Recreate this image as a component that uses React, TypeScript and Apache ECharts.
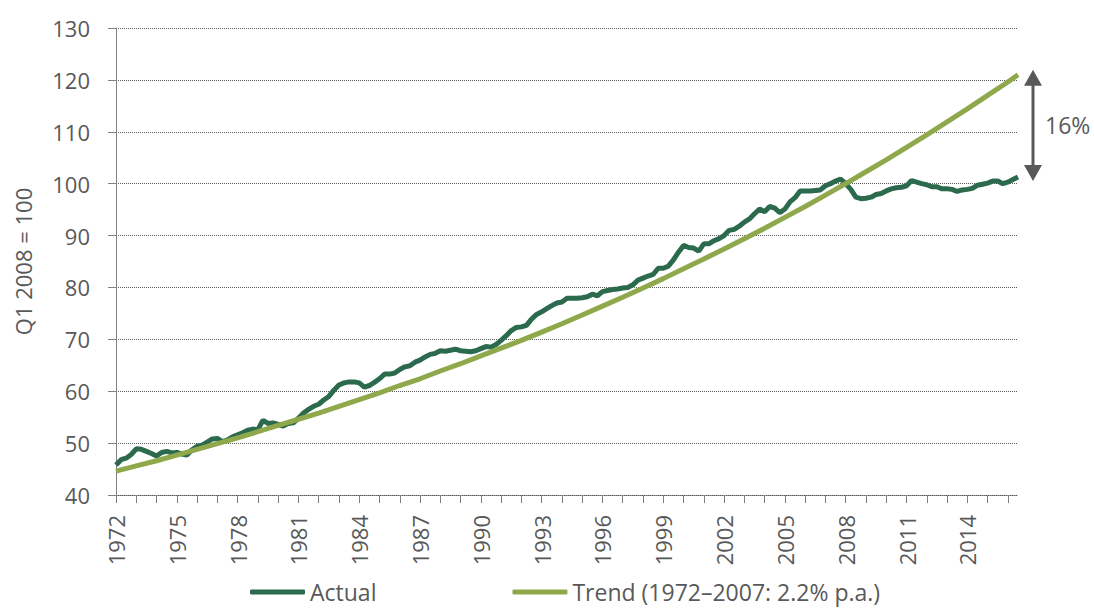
import React, { useEffect, useRef } from "react";
import * as echarts from "echarts";

// Quarterly series, 1972 Q1 – 2016 Q3 (Q1 2008 = 100)
const startYear = 1972;
const actual = [
  45.8, 46.8, 47.1, 47.8, // 1972
  48.9, 48.8, 48.4, 48.0, // 1973
  47.5, 48.2, 48.4, 48.1, // 1974
  48.2, 47.9, 47.7, 48.7, // 1975
  49.4, 49.6, 50.2, 50.8, // 1976
  50.9, 50.3, 50.6, 51.2, // 1977
  51.6, 52.0, 52.5, 52.7, // 1978
  52.6, 54.4, 53.8, 53.9, // 1979
  53.6, 53.3, 53.8, 53.9, // 1980
  54.8, 55.8, 56.5, 57.1, // 1981
  57.5, 58.3, 59.0, 60.2, // 1982
  61.2, 61.6, 61.8, 61.8, // 1983
  61.6, 60.8, 61.1, 61.7, // 1984
  62.4, 63.3, 63.3, 63.5, // 1985
  64.2, 64.7, 64.9, 65.6, // 1986
  66.0, 66.6, 67.1, 67.3, // 1987
  67.8, 67.7, 67.9, 68.1, // 1988
  67.8, 67.7, 67.6, 67.8, // 1989
  68.2, 68.6, 68.5, 69.0, // 1990
  69.8, 70.7, 71.7, 72.3, // 1991
  72.4, 72.7, 73.9, 74.8, // 1992
  75.3, 75.9, 76.5, 77.0, // 1993
  77.2, 77.9, 77.9, 77.9, // 1994
  78.0, 78.2, 78.7, 78.4, // 1995
  79.2, 79.4, 79.6, 79.7, // 1996
  79.9, 80.0, 80.5, 81.4, // 1997
  81.8, 82.2, 82.5, 83.7, // 1998
  83.7, 84.1, 85.3, 86.8, // 1999
  88.1, 87.7, 87.6, 87.0, // 2000
  88.4, 88.4, 89.0, 89.4, // 2001
  90.0, 91.0, 91.2, 91.8, // 2002
  92.6, 93.2, 94.2, 95.1, // 2003
  94.6, 95.6, 95.3, 94.4, // 2004
  95.1, 96.5, 97.3, 98.6, // 2005
  98.6, 98.6, 98.7, 98.8, // 2006
  99.6, 100.0, 100.5, 100.9, // 2007
  100.0, 98.9, 97.4, 97.1, // 2008
  97.2, 97.4, 97.9, 98.1, // 2009
  98.6, 99.0, 99.2, 99.3, // 2010
  99.6, 100.6, 100.3, 100.0, // 2011
  99.8, 99.4, 99.4, 99.0, // 2012
  99.0, 98.9, 98.5, 98.8, // 2013
  98.9, 99.1, 99.7, 99.9, // 2014
  100.1, 100.5, 100.5, 100.0, // 2015
  100.3, 100.8, 101.3, // 2016
];

// Trend read at Q1 of each year (plus the last quarter shown)
const trendQuarterIndex = [
  0, 4, 8, 12, 16, 20, 24, 28, 32, 36, 40, 44, 48, 52, 56, 60, 64, 68, 72, 76,
  80, 84, 88, 92, 96, 100, 104, 108, 112, 116, 120, 124, 128, 132, 136, 140,
  144, 148, 152, 156, 160, 164, 168, 172, 176, 178,
];
const trendValues = [
  44.6, 45.6, 46.6, 47.7, 48.8, 49.9, 51.0, 52.2, 53.4, 54.6, 55.8, 57.1, 58.4,
  59.7, 61.1, 62.4, 63.9, 65.3, 66.8, 68.3, 69.8, 71.4, 73.0, 74.7, 76.4, 78.1,
  79.9, 81.7, 83.6, 85.5, 87.4, 89.4, 91.4, 93.5, 95.6, 97.8, 100.0, 102.3,
  104.6, 107.0, 109.4, 111.9, 114.4, 117.0, 119.6, 121.0,
];

const labelYears = [1972, 1975, 1978, 1981, 1984, 1987, 1990, 1993, 1996, 1999, 2002, 2005, 2008, 2011, 2014];
const seriesNames = ["Actual", "Trend (1972\u20132007: 2.2% p.a.)"];
const yAxisTitle = "Q1 2008 = 100";
const gapLabel = "16%";

const categories = actual.map((_, i) => `${startYear + Math.floor(i / 4)} Q${(i % 4) + 1}`);

const FONT = "'Open Sans', 'Liberation Sans', sans-serif";
const GREY = "#595959";
const AXIS = "#808080";
const DARK = "#2c6a4e";
const OLIVE = "#8fa84b";

export default function App() {
  const ref = useRef<HTMLDivElement>(null);

  useEffect(() => {
    if (!ref.current) return;
    const chart = echarts.init(ref.current, undefined, { renderer: "svg" });
    const option: any = {
      animation: false,
      backgroundColor: "#ffffff",
      grid: { left: 116, right: 76, top: 28, bottom: 113 },
      legend: {
        left: 250,
        top: 580,
        padding: 0,
        itemWidth: 55,
        itemHeight: 5,
        itemGap: 136,
        icon: "roundRect",
        textStyle: { fontFamily: FONT, fontSize: 23, lineHeight: 24, color: GREY },
        data: seriesNames,
      },
      xAxis: {
        type: "category",
        data: categories,
        boundaryGap: false,
        axisLine: { show: true, lineStyle: { color: GREY, type: "dotted", width: 1 } },
        axisTick: {
          show: true,
          length: 8,
          interval: (i: number) => i % 4 === 0,
          lineStyle: { color: AXIS },
        },
        axisLabel: {
          interval: (i: number) => i % 4 === 0 && labelYears.includes(startYear + i / 4),
          rotate: 90,
          margin: 20,
          fontFamily: FONT,
          fontSize: 22,
          color: GREY,
          formatter: (v: string) => v.slice(0, 4),
        },
        splitLine: { show: false },
      },
      yAxis: {
        type: "value",
        min: 40,
        max: 130,
        interval: 10,
        name: yAxisTitle,
        nameLocation: "middle",
        nameGap: 82,
        nameTextStyle: { fontFamily: FONT, fontSize: 22, color: GREY },
        axisLine: { show: true, lineStyle: { color: AXIS } },
        axisTick: { show: true, length: 8, lineStyle: { color: AXIS } },
        axisLabel: { margin: 26, fontFamily: FONT, fontSize: 22, color: GREY },
        splitLine: { show: true, lineStyle: { color: GREY, type: "dotted", width: 1 } },
      },
      series: [
        {
          name: seriesNames[0],
          type: "line",
          data: actual,
          showSymbol: false,
          symbol: "none",
          color: DARK,
          lineStyle: { color: DARK, width: 5 },
          z: 2,
        },
        {
          name: seriesNames[1],
          type: "line",
          data: trendQuarterIndex.map((q, i) => [q, trendValues[i]]),
          showSymbol: false,
          symbol: "none",
          color: OLIVE,
          lineStyle: { color: OLIVE, width: 5 },
          z: 3,
        },
      ],
    };
    chart.setOption(option);

    const lastIdx = actual.length - 1;
    const xEnd = chart.convertToPixel({ xAxisIndex: 0 }, lastIdx) as number;
    const yTop = (chart.convertToPixel({ yAxisIndex: 0 }, trendValues[trendValues.length - 1]) as number) - 5;
    const yBot = (chart.convertToPixel({ yAxisIndex: 0 }, actual[lastIdx]) as number) + 4;
    const ax = xEnd + 15;
    const head = 16;
    const half = 9;
    chart.setOption({
      graphic: [
        {
          type: "line",
          shape: { x1: ax, y1: yTop + head - 2, x2: ax, y2: yBot - head + 2 },
          style: { stroke: GREY, lineWidth: 3 },
        },
        {
          type: "polygon",
          shape: { points: [[ax, yTop], [ax - half, yTop + head], [ax + half, yTop + head]] },
          style: { fill: GREY },
        },
        {
          type: "polygon",
          shape: { points: [[ax, yBot], [ax - half, yBot - head], [ax + half, yBot - head]] },
          style: { fill: GREY },
        },
        {
          type: "text",
          x: ax + 12,
          y: (yTop + yBot) / 2,
          style: {
            text: gapLabel,
            fontFamily: FONT,
            fontSize: 23,
            fill: GREY,
            verticalAlign: "middle",
            align: "left",
          },
        },
      ],
    });

    return () => chart.dispose();
  }, []);

  return (
    <div
      ref={ref}
      style={{ position: "fixed", left: 0, top: 0, width: 1094, height: 608, background: "#fff" }}
    />
  );
}
